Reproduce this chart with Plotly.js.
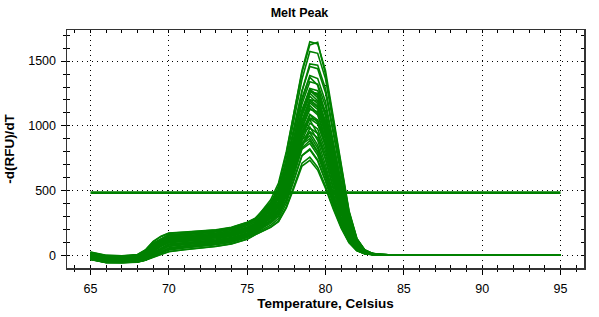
<!DOCTYPE html>
<html>
<head>
<meta charset="utf-8">
<script src="https://cdn.plot.ly/plotly-3.0.1.min.js"></script>
<style>html,body{margin:0;padding:0;background:#fff;}#chart{width:599px;height:317px;}</style>
</head>
<body>
<div id="chart"></div>
<script>
// Temperatures (Celsius) at which the melt-peak values are read
const temps = [65,65.5,66,67,68,68.5,69,69.5,70,71,72,73,74,75,75.5,
  76,76.5,77,77.5,78,78.5,79,79.5,80,80.5,81,81.5,82,82.5,83,
  83.5,84,85,90,95];

// -d(RFU)/dT values, one array per well
const curve01 = [22,6,-4,-8,2,32,95,130,160,168,176,188,208,248,275, 350,429,559,801,1107,1413,1625,1645,1398,1041,662,338,129,43,16, 7,5,4,3,3];
const curve02 = [8,-8,-18,-20,-12,18,70,105,135,142,152,163,182,218,245, 319,400,537,788,1107,1427,1649,1633,1426,1064,676,345,132,44,16, 6,4,3,3,2];
const curve03 = [-3,-18,-28,-30,-24,2,45,85,112,122,131,142,162,196,225, 295,372,504,746,1053,1360,1574,1560,1363,1017,647,331,126,42,15, 6,4,3,2,2];
const curve04 = [10,-5,-15,-18,-8,22,65,102,128,138,149,158,178,212,245, 313,384,501,718,993,1269,1459,1441,1256,936,594,303,116,39,14, 5,4,3,3,3];
const curve05 = [18,3,-8,-12,-2,28,85,125,150,160,172,182,200,240,275, 342,393,481,661,916,1197,1375,1314,1087,765,466,225,80,29,11, 5,4,3,3,3];
const curve06 = [-8,-22,-32,-33,-27,-3,38,78,108,118,128,138,158,192,225, 286,348,450,641,882,1123,1289,1272,1108,825,524,268,102,34,13, 6,4,3,3,3];
const curve07 = [-12,-28,-38,-40,-33,-12,22,58,88,98,107,118,138,172,200, 257,306,397,574,827,1104,1283,1233,1024,723,441,213,76,28,10, 5,4,3,3,3];
const curve08 = [3,-12,-22,-22,-12,18,58,98,128,138,148,158,178,214,245, 306,354,437,605,844,1107,1274,1218,1009,711,432,209,74,27,10, 5,4,3,3,2];
const curve09 = [-28,-43,-53,-54,-48,-33,-2,28,58,72,82,96,117,152,180, 233,292,392,575,808,1040,1202,1191,1039,775,493,252,96,33,12, 6,4,3,3,3];
const curve10 = [15,0,-10,-14,-5,25,78,118,152,162,173,184,203,243,275, 337,383,457,613,833,1077,1230,1171,967,680,413,200,71,26,10, 5,4,3,3,3];
const curve11 = [-6,-20,-30,-31,-26,0,42,82,110,120,129,140,160,194,225, 281,326,403,558,780,1023,1178,1127,933,658,400,194,69,25,10, 5,4,3,3,3];
const curve12 = [-16,-31,-41,-42,-36,-16,18,53,83,93,103,114,134,169,200, 253,307,396,562,771,981,1126,1110,967,720,457,233,89,30,12, 5,4,3,3,3];
const curve13 = [6,-9,-19,-21,-11,21,62,101,131,141,151,161,181,216,245, 302,344,415,560,767,995,1138,1085,897,631,383,185,66,24,9, 5,4,3,3,3];
const curve14 = [-32,-47,-56,-57,-52,-37,-7,23,53,68,79,93,113,149,180, 229,271,346,495,707,940,1090,1046,868,613,373,181,64,24,9, 5,4,3,3,3];
const curve15 = [-4,-19,-29,-29,-24,1,41,81,111,121,131,141,161,195,225, 278,329,407,557,745,933,1061,1042,904,671,425,217,83,28,11, 5,4,3,3,3];
const curve16 = [20,4,-6,-11,-1,29,82,122,156,166,176,186,206,246,275, 333,372,433,565,751,957,1084,1029,847,594,361,174,62,23,9, 5,4,3,3,3];
const curve17 = [-14,-29,-39,-40,-34,-14,21,56,86,96,106,116,136,171,200, 249,287,354,487,678,888,1021,976,808,569,346,167,60,22,9, 5,4,3,3,3];
const curve18 = [-29,-44,-54,-55,-49,-34,-4,26,56,71,81,96,116,151,180, 226,263,329,460,647,852,983,942,780,550,335,162,58,22,9, 5,4,3,3,3];
const curve19 = [4,-11,-21,-21,-11,19,61,99,129,139,149,159,179,215,245, 288,324,380,518,724,939,992,888,697,477,282,131,47,17,8, 5,4,3,3,3];
const curve20 = [-7,-21,-31,-31,-26,-1,39,79,109,119,129,139,159,194,225, 274,310,366,485,653,839,955,908,749,527,319,155,55,21,8, 5,4,3,3,3];
const curve21 = [-17,-32,-42,-41,-36,-17,18,53,83,93,103,113,133,168,200, 237,271,328,461,660,868,923,829,652,447,265,123,45,16,7, 5,4,3,3,3];
const curve22 = [-31,-46,-55,-56,-51,-36,-6,24,54,69,79,94,114,150,180, 214,247,303,433,627,830,885,796,626,430,255,119,43,15,7, 5,4,3,3,3];
const curve23 = [-5,-19,-29,-30,-25,1,41,81,110,120,130,140,160,195,225, 264,295,342,460,637,821,865,774,607,415,245,114,41,15,7, 5,4,3,3,3];
const curve24 = [-15,-30,-40,-39,-34,-14,20,55,85,95,105,115,135,170,200, 235,264,311,424,594,771,815,730,573,392,232,108,39,14,7, 5,4,3,3,3];
const curve25 = [-24,-39,-49,-50,-44,-34,-14,11,31,46,56,71,91,126,160, 190,218,265,375,540,712,758,681,536,368,218,101,37,14,6, 5,4,3,3,3];
const curve26 = [-27,-42,-51,-51,-46,-36,-16,9,29,44,54,69,89,124,160, 190,217,261,367,525,690,734,659,518,356,211,98,36,13,6, 5,4,3,3,3];
const curve27 = [21,5,-5,-9,1,31,88,126,158,166,175,186,206,246,275, 343,409,514,714,964,1216,1388,1365,1186,881,559,285,109,36,13, 6,4,3,3,3];
const curve28 = [-30,-45,-55,-55,-50,-35,-5,25,55,70,80,95,115,150,180, 242,316,445,677,973,1269,1478,1469,1286,961,612,313,120,40,14, 6,4,3,3,3];
const curve29 = [14,-2,-12,-15,-5,25,75,112,142,152,162,172,192,230,260, 321,368,447,608,839,1092,1252,1195,988,696,423,204,73,26,10, 5,4,3,3,3];
const curve30 = [0,-15,-25,-25,-18,10,50,90,120,130,140,150,170,205,235, 298,363,469,667,917,1168,1341,1323,1152,858,545,278,106,36,13, 6,4,3,3,3];
const curve31 = [-10,-25,-35,-35,-30,-8,30,68,98,108,118,128,148,182,212, 267,312,393,553,781,1031,1191,1142,946,667,407,196,70,26,10, 5,4,3,3,3];
const curve32 = [-22,-38,-48,-48,-43,-25,8,40,70,82,92,105,125,160,190, 246,308,413,605,850,1094,1264,1251,1092,815,518,264,101,34,13, 6,4,3,3,3];
const curve33 = [-28,-43,-53,-53,-48,-36,-10,18,43,58,68,82,102,138,170, 217,258,332,476,684,910,1057,1014,842,595,363,175,63,23,9, 5,4,3,3,3];
const curve34 = [25,10,0,-5,5,40,105,145,170,178,185,195,215,255,285, 346,388,455,596,797,1019,1156,1098,905,635,385,186,67,24,9, 5,4,3,3,3];
const curve35 = [2,-13,-23,-24,-16,12,52,92,122,131,141,151,171,206,235, 278,317,379,529,752,986,1047,939,738,506,300,139,50,17,8, 5,4,3,3,3];
const curve36 = [-9,-24,-34,-36,-29,-6,32,70,100,109,119,129,149,183,212, 250,285,343,478,681,893,948,851,668,458,272,126,46,16,7, 5,4,3,3,3];
const curve37 = [-20,-36,-46,-47,-42,-23,10,42,72,84,94,106,126,161,190, 244,290,374,539,776,1034,1202,1154,958,677,413,200,71,26,10, 5,4,3,3,3];
const curve38 = [12,-3,-13,-16,-6,24,73,110,140,150,160,171,191,229,260, 302,334,380,498,675,860,901,803,628,429,253,117,43,15,7, 5,4,3,3,3];
const curve39 = [-26,-41,-51,-52,-47,-34,-8,20,45,60,70,84,104,140,170, 202,233,284,404,584,771,822,738,581,399,237,109,40,14,7, 5,4,3,3,3];
const curve40 = [27,12,2,-3,7,42,108,148,172,180,188,198,217,257,285, 350,410,501,677,898,1119,1268,1243,1077,799,506,258,99,33,13, 6,4,3,3,3];

// Peak threshold line
const thresholdTemps = [65, 95];
const thresholdValues = [485, 485];

const wells = [curve01,curve02,curve03,curve04,curve05,curve06,curve07,curve08,curve09,curve10,
  curve11,curve12,curve13,curve14,curve15,curve16,curve17,curve18,curve19,curve20,
  curve21,curve22,curve23,curve24,curve25,curve26,curve27,curve28,curve29,curve30,
  curve31,curve32,curve33,curve34,curve35,curve36,curve37,curve38,curve39,curve40];

const GREEN = '#008000';
const traces = wells.map(v => ({
  x: temps, y: v, type: 'scatter', mode: 'lines',
  line: {color: GREEN, width: 1.6}, hoverinfo: 'skip', showlegend: false
}));
traces.push({
  x: thresholdTemps, y: thresholdValues, type: 'scatter', mode: 'lines',
  line: {color: GREEN, width: 2.8}, hoverinfo: 'skip', showlegend: false
});
// invisible trace to carry the overlay axes (inside ticks)
traces.push({x: [80], y: [500], xaxis: 'x2', yaxis: 'y2', type: 'scatter', mode: 'markers',
  marker: {opacity: 0}, hoverinfo: 'skip', showlegend: false});

const FONT = 'Liberation Sans, Arial, sans-serif';
const xr = [63.5, 96.5], yr = [-97, 1740];

const layout = {
  width: 599, height: 317,
  margin: {l: 67, r: 15, t: 30, b: 49},
  paper_bgcolor: '#fff', plot_bgcolor: '#fff',
  font: {family: FONT, color: '#000'},
  title: {text: 'Melt Peak', font: {family: FONT, size: 12.5, weight: 'bold', color: '#000'},
    x: 0.5, xref: 'container', xanchor: 'center', y: 1 - 13/317, yref: 'container', yanchor: 'middle'},
  xaxis: {
    range: xr, tick0: 65, dtick: 5, ticks: 'outside', ticklen: 5, tickwidth: 1, tickcolor: '#000',
    minor: {dtick: 1, tick0: 65, ticks: 'outside', ticklen: 2.5, tickcolor: '#000', showgrid: false},
    showline: true, linecolor: '#000', linewidth: 1.5, zeroline: false,
    showgrid: true, gridcolor: '#000', gridwidth: 1, griddash: '1px,4px',
    tickfont: {family: FONT, size: 12.5, color: '#000'}, ticklabelstandoff: 3,
    title: {text: 'Temperature, Celsius', font: {family: FONT, size: 13.5, weight: 'bold', color: '#000'}, standoff: 4}
  },
  yaxis: {
    range: yr, tick0: 0, dtick: 500, ticks: 'outside', ticklen: 5, tickwidth: 1, tickcolor: '#000',
    minor: {dtick: 100, tick0: 0, ticks: 'outside', ticklen: 2.5, tickcolor: '#000', showgrid: false},
    showline: true, linecolor: '#000', linewidth: 1.5, zeroline: false,
    showgrid: true, gridcolor: '#000', gridwidth: 1, griddash: '1px,4px',
    tickfont: {family: FONT, size: 12.5, color: '#000'}, ticklabelstandoff: 2,
    title: {text: '-d(RFU)/dT', font: {family: FONT, size: 13.5, weight: 'bold', color: '#000'}, standoff: 10}
  },
  xaxis2: {
    overlaying: 'x', anchor: 'y', side: 'bottom', range: xr, tick0: 65, dtick: 5,
    ticks: 'inside', ticklen: 3, tickcolor: '#000', mirror: 'ticks',
    minor: {dtick: 1, tick0: 65, ticks: 'inside', ticklen: 3, tickcolor: '#000', showgrid: false},
    showline: true, linecolor: '#333', linewidth: 1.5, showgrid: false, zeroline: false, showticklabels: false
  },
  yaxis2: {
    overlaying: 'y', anchor: 'x', side: 'left', range: yr, tick0: 0, dtick: 500,
    ticks: 'inside', ticklen: 3, tickcolor: '#000', mirror: 'ticks',
    minor: {dtick: 100, tick0: 0, ticks: 'inside', ticklen: 3, tickcolor: '#000', showgrid: false},
    showline: true, linecolor: '#333', linewidth: 1.5, showgrid: false, zeroline: false, showticklabels: false
  }
};

Plotly.newPlot('chart', traces, layout, {displayModeBar: false, staticPlot: true});
</script>
</body>
</html>
